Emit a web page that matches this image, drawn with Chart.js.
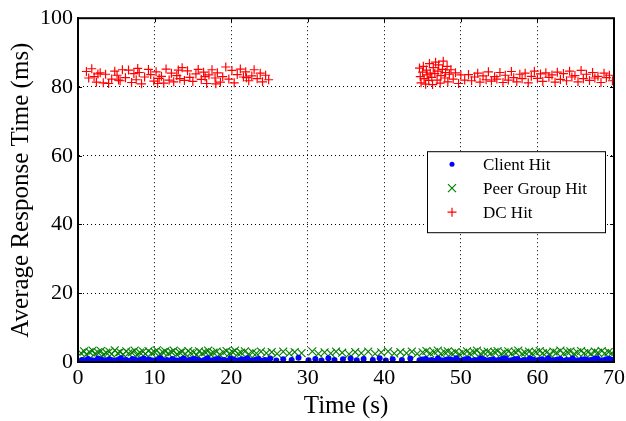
<!DOCTYPE html>
<html>
<head>
<meta charset="utf-8">
<script src="https://cdn.jsdelivr.net/npm/chart.js@4/dist/chart.umd.min.js"></script>
<style>
  html, body { margin: 0; padding: 0; background: #fff; }
  #wrap { width: 626px; height: 421px; }
</style>
</head>
<body>
<div id="wrap"><canvas id="chart" width="626" height="421"></canvas></div>
<script>
// series labels
const seriesNames = ["Client Hit", "Peer Group Hit", "DC Hit"];

// axis ticks
const xTicks = [0, 10, 20, 30, 40, 50, 60, 70];
const yTicks = [0, 20, 40, 60, 80, 100];

// Client Hit (blue dots near the floor)
const clientTime = [0.5, 0.9, 1.3, 1.7, 2.0, 2.6, 3.0, 3.4, 3.8, 4.1, 4.5, 4.9, 5.3, 5.6, 6.0, 6.3, 6.8, 7.1, 7.5, 7.8, 8.2, 8.6, 9.0,
  9.3, 9.7, 10.1, 10.5, 10.8, 11.2, 11.6, 12.0, 12.3, 12.7, 13.1, 13.5, 13.8, 14.2, 14.6, 15.0, 15.4, 15.8, 16.1, 16.5, 16.9,
  17.2, 17.6, 18.0, 18.4, 18.8, 19.1, 19.5, 19.9, 20.3, 20.6, 21.0, 21.4, 21.8, 22.1, 22.5, 22.9, 23.3, 23.6, 24.0, 24.4,
  24.8, 25.1, 25.9, 26.8, 27.9, 28.8, 30.1, 31.0, 31.8, 32.7, 33.5, 34.6, 35.6, 36.4, 37.3, 38.5, 39.4, 40.2, 41.1, 42.3,
  43.4, 44.6, 45.0, 45.4, 45.8, 46.2, 46.6, 47.0, 47.4, 47.8, 48.2, 48.6, 49.0, 49.4, 49.8, 50.2, 50.6, 51.0, 51.4, 51.8,
  52.2, 52.6, 53.0, 53.4, 53.8, 54.2, 54.6, 55.0, 55.4, 55.8, 56.2, 56.6, 57.0, 57.4, 57.8, 58.2, 58.6, 59.0, 59.4, 59.8,
  60.2, 60.6, 61.0, 61.4, 61.8, 62.2, 62.6, 63.0, 63.4, 63.8, 64.2, 64.6, 65.0, 65.4, 65.8, 66.2, 66.6, 67.0, 67.4, 67.8,
  68.2, 68.6, 69.0, 69.4, 69.8];
const clientMs = [0.6, 0.4, 0.9, 0.5, 0.4, 1.0, 0.7, 0.5, 0.3, 0.8, 0.5, 0.3, 0.7, 1.1, 0.4, 0.6, 0.3, 0.9, 0.6, 0.4, 0.7, 1.0, 0.5,
  0.7, 0.4, 0.5, 0.8, 1.1, 0.4, 0.6, 0.3, 0.9, 0.5, 0.4, 0.7, 1.0, 0.4, 0.6, 0.9, 0.8, 0.5, 0.3, 0.6, 1.1,
  0.4, 0.5, 0.8, 0.9, 0.4, 0.6, 0.3, 1.0, 0.7, 0.4, 0.5, 0.8, 0.6, 1.1, 0.4, 0.5, 0.7, 0.9, 0.3, 0.6,
  0.5, 1.0, 0.4, 0.8, 0.6, 1.2, 0.5, 0.9, 0.4, 1.1, 0.6, 0.8, 1.0, 0.5, 0.9, 0.6, 1.1, 0.4, 0.8, 0.6,
  1.0, 0.5, 0.7, 0.9, 0.4, 0.6, 0.3, 1.0, 0.5, 0.4, 0.7, 0.8, 0.5, 1.1, 0.4, 0.5, 0.8, 0.9, 0.3, 0.6,
  0.5, 1.0, 0.7, 0.4, 0.6, 0.8, 0.4, 0.6, 0.9, 1.1, 0.4, 0.5, 0.8, 0.9, 0.3, 0.6, 0.5, 1.0, 0.7, 0.4,
  0.6, 0.8, 0.4, 1.1, 0.5, 0.5, 0.7, 0.9, 0.3, 0.6, 0.5, 1.0, 0.4, 0.4, 0.7, 0.8, 0.5, 0.6, 0.9, 1.1,
  0.4, 0.5, 0.8, 0.9, 0.6];

// Peer Group Hit (green x's)
const peerTime = [0.4, 0.8, 1.1, 1.5, 1.9, 2.2, 2.6, 3.0, 3.3, 3.7, 4.1, 4.4, 4.8, 5.2, 5.5, 5.9, 6.3, 6.6, 7.0, 7.4, 7.7, 8.1,
  8.5, 8.8, 9.2, 9.6, 10.0, 10.3, 10.7, 11.1, 11.4, 11.8, 12.2, 12.5, 12.9, 13.3, 13.6, 14.0, 14.4, 14.7, 15.1, 15.5,
  15.8, 16.2, 16.6, 17.0, 17.3, 17.7, 18.1, 18.5, 19.0, 19.4, 19.8, 20.2, 20.5, 20.9, 21.3, 21.8, 22.3, 22.8, 23.3,
  23.9, 24.6, 25.3, 26.0, 26.8, 27.6, 28.3, 29.2, 30.6, 31.4, 32.2, 33.0, 33.7, 34.5, 35.4, 36.2, 37.0, 37.9, 38.8,
  39.6, 40.5, 41.3, 42.1, 42.9, 43.6, 44.3, 45.0, 45.5, 46.0, 46.5, 47.0, 47.4, 47.9, 48.3, 48.8, 49.3, 49.8, 50.3,
  50.8, 51.2, 51.7, 52.1, 52.6, 53.0, 53.5, 53.9, 54.4, 54.8, 55.3, 55.7, 56.2, 56.6, 57.1, 57.5, 58.0, 58.4, 58.9,
  59.3, 59.8, 60.3, 60.7, 61.2, 61.6, 62.1, 62.5, 63.0, 63.4, 63.9, 64.3, 64.8, 65.2, 65.7, 66.1, 66.6, 67.0, 67.5,
  67.9, 68.4, 68.8, 69.3, 69.7];
const peerMs = [2.6, 3.1, 2.2, 2.9, 3.3, 2.4, 2.8, 3.2, 2.1, 2.7, 3.0, 2.3, 3.4, 2.6, 2.9, 2.2, 3.1, 2.5, 2.8, 3.3, 2.1, 2.7,
  3.0, 2.4, 3.2, 2.6, 2.9, 3.4, 2.3, 2.8, 3.1, 2.5, 2.9, 3.3, 2.2, 2.7, 3.0, 2.4, 3.2, 2.6,
  2.8, 2.1, 3.1, 2.5, 2.9, 3.3, 2.3, 2.7, 3.0, 2.2, 2.8, 3.2, 2.5, 2.9, 3.3, 2.4, 2.7, 3.1, 2.3, 2.8, 2.5,
  3.0, 2.6, 2.9, 2.4, 3.0, 2.5, 2.9, 2.6, 3.1, 2.4, 2.8, 2.5, 3.0, 2.7, 2.3, 2.9, 2.6, 3.0, 2.4,
  2.8, 3.1, 2.5, 2.9, 2.6, 3.0, 2.4, 2.8, 3.2, 2.5, 2.9, 3.3, 2.4, 2.8, 3.1, 2.6, 2.9, 2.3, 2.7,
  3.1, 2.5, 2.9, 3.3, 2.4, 2.8, 3.0, 2.6, 2.9, 3.2, 2.4, 2.8, 3.1, 2.5, 2.9, 3.3, 2.4, 2.7, 3.0,
  2.5, 2.9, 3.2, 2.6, 2.8, 2.3, 3.0, 2.7, 3.3, 2.5, 2.9, 3.1, 2.4, 2.8, 3.2, 2.6, 2.9, 2.4, 3.0,
  2.7, 3.2, 2.5, 2.9, 2.6];

// DC Hit (red +'s), nothing between ~25 s and ~44 s
const dcTime = [1.1, 1.4, 1.8, 2.1, 2.4, 2.6, 2.9, 3.3, 3.6, 4.0, 4.4, 4.8, 5.1, 5.3, 5.5, 5.8, 6.2, 6.6, 7.0, 7.3, 7.6, 7.8,
  8.0, 8.3, 8.7, 9.2, 9.5, 9.9, 10.2, 10.4, 10.6, 10.9, 11.2, 11.5, 11.9, 12.2, 12.5, 12.9, 13.1, 13.3, 13.6, 13.9,
  14.3, 14.6, 15.0, 15.4, 15.7, 16.1, 16.4, 16.6, 16.8, 17.1, 17.5, 17.9, 18.0, 18.2, 18.6, 18.9, 19.3, 19.7, 20.1,
  20.4, 20.8, 21.2, 21.6, 21.9, 22.0, 22.3, 22.7, 23.0, 23.4, 23.8, 24.1, 24.5, 24.9,
  44.6, 44.7, 44.8, 45.0, 45.1, 45.2, 45.4, 45.5, 45.6, 45.8, 45.9, 46.0, 46.2, 46.3, 46.4, 46.6, 46.7, 46.9, 47.0,
  47.1, 47.3, 47.4, 47.6, 47.7, 47.9, 48.0, 48.2, 48.3, 48.5, 48.7, 49.0, 49.3, 49.7, 50.0, 50.5, 51.0, 51.4, 51.8,
  52.2, 52.5, 52.9, 53.3, 53.6, 54.0, 54.4, 54.7, 55.1, 55.5, 55.8, 56.2, 56.6, 56.9, 57.3, 57.7, 58.0, 58.4, 58.8,
  59.2, 59.6, 60.0, 60.4, 60.7, 61.1, 61.5, 61.9, 62.3, 62.6, 63.0, 63.4, 63.8, 64.2, 64.5, 64.9, 65.3, 65.7, 66.0,
  66.4, 66.8, 67.2, 67.5, 67.9, 68.3, 68.7, 69.0, 69.4, 69.8];
const dcMs = [84.5, 82.6, 85.3, 83.0, 81.4, 83.8, 84.1, 81.2, 83.7, 81.0, 82.3, 84.6, 83.4, 82.0, 81.8, 85.0, 82.7, 84.9, 81.3,
  83.9, 82.1, 85.4, 84.2, 80.9, 82.9, 85.1, 83.6, 81.7, 84.4, 81.0, 82.5, 83.1, 81.1, 85.2, 82.0, 84.0, 81.5, 83.3, 84.9,
  82.4, 85.6, 81.9, 84.7, 82.8, 81.6, 83.8, 85.1, 82.2, 84.3, 83.0, 81.0, 83.5, 85.0, 82.6, 80.9, 84.1, 81.4, 83.0,
  85.8, 82.3, 84.8, 81.2, 83.6, 85.2, 82.9, 84.4, 82.7, 81.8, 83.2, 85.0, 82.4, 84.0, 81.5, 83.4, 82.1,
  85.5, 83.0, 81.2, 84.3, 86.0, 82.4, 80.8, 84.9, 83.5, 81.9, 86.8, 84.0, 82.8, 80.7, 85.6, 83.9, 87.2, 82.0, 84.6,
  86.4, 81.1, 83.3, 85.1, 87.5, 82.6, 84.2, 86.0, 81.5, 83.7, 85.0, 82.3, 84.1, 81.0, 83.5, 82.0, 83.6, 81.8, 82.9,
  84.0, 81.4, 83.2, 82.1, 84.4, 81.7, 83.0, 82.3, 84.2, 81.3, 83.4, 82.0, 84.5, 82.7, 81.5, 83.7, 82.4, 84.0, 81.2,
  83.1, 84.6, 82.5, 83.8, 81.6, 84.1, 82.8, 83.5, 81.4, 84.3, 82.2, 83.9, 81.8, 84.6, 82.9, 83.3, 81.5, 84.8, 82.4,
  83.7, 81.9, 84.2, 82.6, 83.1, 81.3, 84.0, 82.7, 83.4, 81.8];

const toPoints = (xs, ys) => xs.map((x, i) => ({ x, y: ys[i] }));

const FONT = "'Liberation Serif', 'DejaVu Serif', serif";

// frame + small inward ticks, like the original plot
const framePlugin = {
  id: "frame",
  afterDatasetsDraw(c) {
    const { ctx, chartArea: a, scales } = c;
    ctx.save();
    ctx.strokeStyle = "#000";
    ctx.lineWidth = 1;
    ctx.beginPath();
    xTicks.forEach((t) => {
      const px = Math.round(scales.x.getPixelForValue(t)) + 0.5;
      ctx.moveTo(px, a.bottom); ctx.lineTo(px, a.bottom - 4);
      ctx.moveTo(px, a.top); ctx.lineTo(px, a.top + 4);
    });
    yTicks.forEach((t) => {
      const py = Math.round(scales.y.getPixelForValue(t)) + 0.5;
      ctx.moveTo(a.left, py); ctx.lineTo(a.left + 4, py);
      ctx.moveTo(a.right, py); ctx.lineTo(a.right - 4, py);
    });
    ctx.stroke();
    ctx.lineWidth = 2;
    ctx.strokeRect(a.left, a.top, a.right - a.left, a.bottom - a.top);
    ctx.restore();
  },
  afterDraw(c) {
    // legend box inside the plot
    const { ctx, chartArea: a } = c;
    const bx = a.right - 187, by = a.top + 133, bw = 178, bh = 81;
    ctx.save();
    ctx.fillStyle = "#fff";
    ctx.fillRect(bx, by, bw, bh);
    ctx.strokeStyle = "#000";
    ctx.lineWidth = 1;
    ctx.strokeRect(bx + 0.5, by + 0.5, bw, bh);
    const mx = bx + 25;
    const rows = [by + 13, by + 37, by + 61];
    // blue dot
    ctx.fillStyle = "#0000ff";
    ctx.beginPath(); ctx.arc(mx, rows[0], 2.5, 0, Math.PI * 2); ctx.fill();
    // green x
    ctx.strokeStyle = "#008000"; ctx.lineWidth = 1.2;
    ctx.beginPath();
    ctx.moveTo(mx - 4, rows[1] - 4); ctx.lineTo(mx + 4, rows[1] + 4);
    ctx.moveTo(mx - 4, rows[1] + 4); ctx.lineTo(mx + 4, rows[1] - 4);
    ctx.stroke();
    // red +
    ctx.strokeStyle = "#ff0000";
    ctx.beginPath();
    ctx.moveTo(mx - 4.5, rows[2]); ctx.lineTo(mx + 4.5, rows[2]);
    ctx.moveTo(mx, rows[2] - 4.5); ctx.lineTo(mx, rows[2] + 4.5);
    ctx.stroke();
    ctx.fillStyle = "#000";
    ctx.font = "17px " + FONT;
    ctx.textBaseline = "middle";
    seriesNames.forEach((n, i) => ctx.fillText(n, bx + 56, rows[i] + 1));
    ctx.restore();
  },
};

new Chart(document.getElementById("chart"), {
  type: "scatter",
  data: {
    datasets: [
      {
        label: seriesNames[0],
        data: toPoints(clientTime, clientMs),
        pointStyle: "circle",
        pointRadius: 3,
        backgroundColor: "#0000ff",
        borderColor: "#0000ff",
        borderWidth: 0,
      },
      {
        label: seriesNames[1],
        data: toPoints(peerTime, peerMs),
        pointStyle: "crossRot",
        pointRadius: 5.6,
        borderColor: "#008000",
        backgroundColor: "#008000",
        borderWidth: 1.1,
      },
      {
        label: seriesNames[2],
        data: toPoints(dcTime, dcMs),
        pointStyle: "cross",
        pointRadius: 4.5,
        borderColor: "#ff0000",
        backgroundColor: "#ff0000",
        borderWidth: 1.2,
      },
    ],
  },
  options: {
    responsive: false,
    animation: false,
    layout: { padding: { top: 17, right: 12, left: 0, bottom: 0 } },
    plugins: { legend: { display: false }, tooltip: { enabled: false } },
    scales: {
      x: {
        type: "linear",
        min: 0,
        max: 70,
        afterBuildTicks: (s) => { s.ticks = xTicks.map((v) => ({ value: v })); },
        afterFit: (s) => { s.height = 59; s.paddingRight = 0; s.paddingLeft = 0; },
        ticks: { color: "#000", font: { family: FONT, size: 22 }, padding: 3, maxRotation: 0 },
        grid: { color: "#000", lineWidth: 1, drawTicks: false },
        border: { display: true, color: "#000", width: 2, dash: [1, 3] },
        title: { display: true, text: "Time (s)", color: "#000", font: { family: FONT, size: 25 }, padding: { top: 0, bottom: 0 } },
      },
      y: {
        min: 0,
        max: 100,
        afterBuildTicks: (s) => { s.ticks = yTicks.map((v) => ({ value: v })); },
        afterFit: (s) => { s.width = 78; },
        ticks: { color: "#000", font: { family: FONT, size: 22 }, padding: 5 },
        grid: { color: "#000", lineWidth: 1, drawTicks: false },
        border: { display: true, color: "#000", width: 2, dash: [1, 3] },
        title: { display: true, text: "Average Response Time (ms)", color: "#000", font: { family: FONT, size: 25 }, padding: { top: 6, bottom: 0 } },
      },
    },
  },
  plugins: [framePlugin],
});
</script>
</body>
</html>
